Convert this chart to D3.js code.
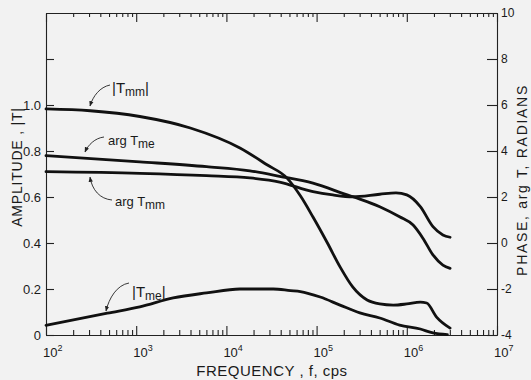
<!DOCTYPE html>
<html>
<head>
<meta charset="utf-8">
<script src="https://cdn.jsdelivr.net/npm/d3@7/dist/d3.min.js"></script>
<style>
  body { margin: 0; background: #f2f2f2; }
  svg { display: block; }
  text { fill: #1a1a1a; }
</style>
</head>
<body>
<div id="chart"></div>
<script>
// log10 of frequency (cps) and values
var tmmLogF = [2.00, 2.49, 3.04, 3.60, 4.15, 4.45, 4.67, 4.82, 4.96, 5.12, 5.26, 5.40, 5.56, 5.70, 5.85, 6.00, 6.15, 6.22, 6.33, 6.48];
var tmmAmp  = [0.983, 0.975, 0.950, 0.900, 0.813, 0.740, 0.683, 0.605, 0.513, 0.400, 0.296, 0.209, 0.152, 0.135, 0.130, 0.135, 0.143, 0.139, 0.078, 0.030];

var tmeLogF = [2.00, 2.68, 3.04, 3.41, 3.78, 4.15, 4.52, 4.71, 4.82, 5.04, 5.26, 5.48, 5.70, 5.92, 6.15, 6.29, 6.45];
var tmeAmp  = [0.042, 0.095, 0.122, 0.161, 0.183, 0.200, 0.200, 0.193, 0.189, 0.165, 0.130, 0.096, 0.074, 0.043, 0.026, 0.009, 0.002];

var argTmeLogF = [2.00, 3.04, 3.78, 4.26, 4.59, 4.96, 5.34, 5.48, 5.70, 5.92, 6.07, 6.18, 6.29, 6.40, 6.48];
var argTmePhase = [3.80, 3.53, 3.32, 3.14, 2.90, 2.60, 2.09, 1.91, 1.58, 1.14, 0.78, 0.20, -0.52, -0.96, -1.10];

var argTmmLogF = [2.00, 3.04, 3.78, 4.26, 4.59, 4.96, 5.18, 5.40, 5.70, 5.88, 6.00, 6.15, 6.29, 6.40, 6.48];
var argTmmPhase = [3.10, 3.03, 2.93, 2.83, 2.65, 2.23, 2.09, 2.01, 2.12, 2.18, 2.09, 1.58, 0.71, 0.35, 0.25];

var ampTicks = [0, 0.2, 0.4, 0.6, 0.8, 1.0, 1.2];
var ampTickLabels = ["0", "0.2", "0.4", "0.6", "0.8", "1.0", ""];
var phaseTicks = [-4, -2, 0, 2, 4, 6, 8, 10];
var decades = [2, 3, 4, 5, 6, 7];

var svg_width = 531, svg_height = 380;
var plot_left = 46, plot_right = 497, plot_top = 13, plot_bottom = 335;

var svg = d3.select("#chart").append("svg")
  .attr("width", svg_width)
  .attr("height", svg_height);

var x_scale = d3.scaleLog().domain([1e2, 1e7]).range([plot_left, plot_right]);
var amp_scale = d3.scaleLinear().domain([0, 1.4]).range([plot_bottom, plot_top]);
var phase_scale = d3.scaleLinear().domain([-4, 10]).range([plot_bottom, plot_top]);

var majors = decades.map(function(d) { return Math.pow(10, d); });
var minors = [];
decades.slice(0, -1).forEach(function(d) {
  for (var m = 2; m <= 9; m++) minors.push(m * Math.pow(10, d));
});

function styleAxis(g) {
  g.selectAll("path, line").attr("stroke", "#222").attr("stroke-width", 1.1);
  g.attr("font-family", "'Liberation Sans Narrow', 'Liberation Sans', sans-serif");
}

// bottom axis (ticks point inward)
svg.append("g").attr("transform", "translate(0," + plot_bottom + ")")
  .call(d3.axisBottom(x_scale).tickValues(minors).tickSizeInner(-5).tickSizeOuter(0).tickFormat(""))
  .call(styleAxis);
svg.append("g").attr("transform", "translate(0," + plot_bottom + ")")
  .call(d3.axisBottom(x_scale).tickValues(majors).tickSizeInner(-9).tickSizeOuter(0).tickFormat(""))
  .call(styleAxis);

// top axis
svg.append("g").attr("transform", "translate(0," + plot_top + ")")
  .call(d3.axisTop(x_scale).tickValues(minors).tickSizeInner(-4).tickSizeOuter(0).tickFormat(""))
  .call(styleAxis);
svg.append("g").attr("transform", "translate(0," + plot_top + ")")
  .call(d3.axisTop(x_scale).tickValues(majors).tickSizeInner(-9).tickSizeOuter(0).tickFormat(""))
  .call(styleAxis);

// decade labels 10^n
var xlab = svg.append("g").selectAll("text")
  .data(decades)
  .join("text")
  .attr("x", function(d) { return x_scale(Math.pow(10, d)) - 3; })
  .attr("y", 357)
  .attr("font-family", "'Liberation Sans Narrow', 'Liberation Sans', sans-serif");
xlab.append("tspan").attr("font-size", 13).text("10");
xlab.append("tspan").attr("font-size", 9).attr("dy", -6).text(function(d) { return d; });

// left amplitude axis
var left_axis = svg.append("g").attr("transform", "translate(" + plot_left + ",0)")
  .call(d3.axisLeft(amp_scale).tickValues(ampTicks).tickSizeInner(-8).tickSizeOuter(0).tickPadding(5)
    .tickFormat(function(d, i) { return ampTickLabels[i]; }))
  .call(styleAxis);
left_axis.selectAll("text").attr("font-size", 13);

// right phase axis
var right_axis = svg.append("g").attr("transform", "translate(" + plot_right + ",0)")
  .call(d3.axisRight(phase_scale).tickValues(phaseTicks).tickSizeInner(-10).tickSizeOuter(0).tickPadding(4)
    .tickFormat(function(d) { return String(d); }))
  .call(styleAxis);
right_axis.selectAll("text").attr("font-size", 12);

// axis titles
svg.append("text")
  .attr("transform", "translate(22,167) rotate(-90)")
  .attr("text-anchor", "middle")
  .attr("font-family", "'Liberation Sans', sans-serif")
  .attr("font-size", 14)
  .attr("letter-spacing", 0.8)
  .text("AMPLITUDE , |T|");

svg.append("text")
  .attr("transform", "translate(527,180) rotate(-90)")
  .attr("text-anchor", "middle")
  .attr("font-family", "'Liberation Sans', sans-serif")
  .attr("font-size", 14)
  .attr("letter-spacing", 1.7)
  .text("PHASE, arg T, RADIANS");

svg.append("text")
  .attr("x", 272)
  .attr("y", 376)
  .attr("text-anchor", "middle")
  .attr("font-family", "'Liberation Sans', sans-serif")
  .attr("font-size", 15)
  .attr("letter-spacing", 0.5)
  .text("FREQUENCY , f, cps");

// curves
function makeSeries(logf, vals) {
  return logf.map(function(lf, i) { return { f: Math.pow(10, lf), v: vals[i] }; });
}
var amp_line = d3.line()
  .x(function(d) { return x_scale(d.f); })
  .y(function(d) { return amp_scale(d.v); })
  .curve(d3.curveMonotoneX);
var phase_line = d3.line()
  .x(function(d) { return x_scale(d.f); })
  .y(function(d) { return phase_scale(d.v); })
  .curve(d3.curveMonotoneX);

var curves = [
  { data: makeSeries(tmmLogF, tmmAmp), line: amp_line },
  { data: makeSeries(tmeLogF, tmeAmp), line: amp_line },
  { data: makeSeries(argTmeLogF, argTmePhase), line: phase_line },
  { data: makeSeries(argTmmLogF, argTmmPhase), line: phase_line }
];
curves.forEach(function(c) {
  svg.append("path")
    .datum(c.data)
    .attr("fill", "none")
    .attr("stroke", "#111")
    .attr("stroke-width", 2.8)
    .attr("stroke-linejoin", "round")
    .attr("stroke-linecap", "round")
    .attr("d", c.line);
});

// arrow head
svg.append("defs").append("marker")
  .attr("id", "head")
  .attr("viewBox", "0 0 10 10")
  .attr("refX", 9).attr("refY", 5)
  .attr("markerWidth", 6).attr("markerHeight", 6)
  .attr("orient", "auto")
  .append("path").attr("d", "M0,1L10,5L0,9Z").attr("fill", "#222");

// curve labels with arrows
var labels = [
  { x: 112, y: 93, pre: "|T", sub: "mm", post: "|", big: 15, small: 12, arrow: "M110,85 C100,87 93,96 90,106" },
  { x: 108, y: 145, pre: "arg T", sub: "me", post: "", big: 13, small: 12, arrow: "M104,137 C95,138 88,145 85,152" },
  { x: 115, y: 206, pre: "arg T", sub: "mm", post: "", big: 13, small: 12, arrow: "M112,200 C100,199 92,190 90,177" },
  { x: 132, y: 297, pre: "|T", sub: "me", post: "|", big: 15, small: 12, arrow: "M129,283 C117,285 109,298 106,311" }
];
labels.forEach(function(l) {
  var t = svg.append("text")
    .attr("x", l.x).attr("y", l.y)
    .attr("font-family", "'Liberation Sans', sans-serif");
  t.append("tspan").attr("font-size", l.big).text(l.pre);
  t.append("tspan").attr("font-size", l.small).attr("dy", 3).text(l.sub);
  if (l.post) t.append("tspan").attr("font-size", l.big).attr("dy", -3).text(l.post);
  svg.append("path")
    .attr("d", l.arrow)
    .attr("fill", "none")
    .attr("stroke", "#222")
    .attr("stroke-width", 0.9)
    .attr("marker-end", "url(#head)");
});
</script>
</body>
</html>
